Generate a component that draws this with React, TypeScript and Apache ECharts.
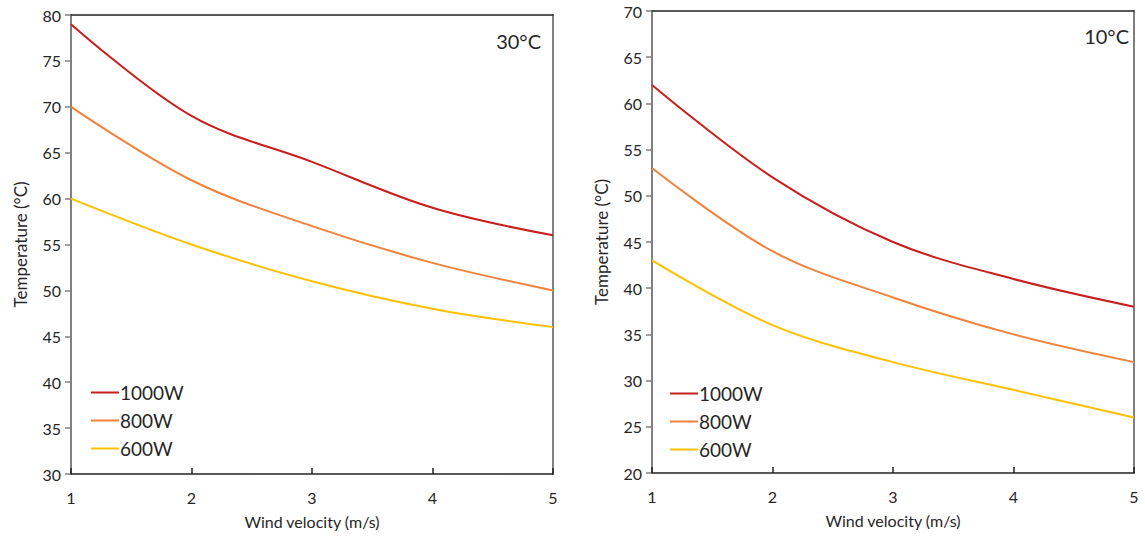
import React, { useEffect, useRef } from "react";
import * as echarts from "echarts";

const windVelocity = [1, 2, 3, 4, 5];
const seriesNames = ["1000W", "800W", "600W"];
const seriesColors = ["#C81E1E", "#F0823C", "#FFC000"];

const temp30C_1000W = [79, 69, 64, 59, 56];
const temp30C_800W = [70, 62, 57, 53, 50];
const temp30C_600W = [60, 55, 51, 48, 46];

const temp10C_1000W = [62, 52, 45, 41, 38];
const temp10C_800W = [53, 44, 39, 35, 32];
const temp10C_600W = [43, 36, 32, 29, 26];

const panelLabels = ["30°C", "10°C"];
const xName = "Wind velocity (m/s)";
const yName = "Temperature (°C)";

const FONT = "Lato, 'Open Sans', sans-serif";
const TXT = "#262626";

export default function App() {
  const ref = useRef<HTMLDivElement>(null);
  useEffect(() => {
    if (!ref.current) return;
    const chart = echarts.init(ref.current, undefined, { renderer: "svg" });
    const grids = [
      { left: 71, top: 15, width: 482, height: 459 },
      { left: 652, top: 11, width: 482, height: 462 },
    ];
    const yRanges = [
      [30, 80],
      [20, 70],
    ];
    const xAxes: any[] = [];
    const yAxes: any[] = [];
    grids.forEach((g, i) => {
      xAxes.push({
        type: "value",
        gridIndex: i,
        min: 1,
        max: 5,
        interval: 1,
        position: "bottom",
        name: xName,
        nameLocation: "middle",
        nameGap: 39,
        nameTextStyle: { fontFamily: FONT, fontSize: 16, color: TXT },
        axisLine: { show: true, lineStyle: { color: "#222", width: 1.5 } },
        axisTick: { show: true, inside: true, length: 6, lineStyle: { color: "#222", width: 1.5 } },
        axisLabel: { fontFamily: FONT, fontSize: 16, color: TXT, margin: 15 },
        splitLine: { show: false },
      });
      xAxes.push({
        type: "value",
        gridIndex: i,
        min: 1,
        max: 5,
        position: "top",
        axisLine: { show: true, onZero: false, lineStyle: { color: "#222", width: 1.5 } },
        axisTick: { show: false },
        axisLabel: { show: false },
        splitLine: { show: false },
      });
      yAxes.push({
        type: "value",
        gridIndex: i,
        min: yRanges[i][0],
        max: yRanges[i][1],
        interval: 5,
        position: "left",
        name: yName,
        nameLocation: "middle",
        nameGap: 42,
        nameTextStyle: { fontFamily: FONT, fontSize: 17, color: TXT },
        axisLine: { show: true, lineStyle: { color: "#808080", width: 2 } },
        axisTick: { show: true, inside: false, length: 6, lineStyle: { color: "#808080", width: 1.5 } },
        axisLabel: { fontFamily: FONT, fontSize: 16, color: TXT, margin: 10 },
        splitLine: { show: false },
      });
      yAxes.push({
        type: "value",
        gridIndex: i,
        min: yRanges[i][0],
        max: yRanges[i][1],
        position: "right",
        axisLine: { show: true, onZero: false, lineStyle: { color: "#808080", width: 2 } },
        axisTick: { show: false },
        axisLabel: { show: false },
        splitLine: { show: false },
      });
    });

    const dataSets = [
      [temp30C_1000W, temp30C_800W, temp30C_600W],
      [temp10C_1000W, temp10C_800W, temp10C_600W],
    ];
    const series: any[] = [];
    dataSets.forEach((set, gi) => {
      set.forEach((vals, si) => {
        series.push({
          type: "line",
          name: seriesNames[si],
          xAxisIndex: gi * 2,
          yAxisIndex: gi * 2,
          data: windVelocity.map((x, k) => [x, vals[k]]),
          smooth: 0.35,
          symbol: "none",
          lineStyle: { color: seriesColors[si], width: 2 },
          itemStyle: { color: seriesColors[si] },
        });
      });
    });

    const legendBase = {
      orient: "vertical",
      data: seriesNames.map((n) => ({ name: n, icon: "rect" })),
      itemWidth: 28,
      itemHeight: 2,
      itemGap: 7,
      selectedMode: false,
      textStyle: { fontFamily: FONT, fontSize: 19, lineHeight: 21, color: TXT, padding: [0, 0, 0, -4] },
    };

    chart.setOption({
      animation: false,
      grid: grids.map((g) => ({ ...g, containLabel: false })),
      xAxis: xAxes,
      yAxis: yAxes,
      series,
      legend: [
        { ...legendBase, left: 86, top: 377 },
        { ...legendBase, left: 665, top: 378 },
      ],
      graphic: [
        {
          type: "text",
          right: 1145 - 541,
          top: 31,
          style: { text: panelLabels[0], fontFamily: FONT, fontSize: 20, fill: TXT },
        },
        {
          type: "text",
          right: 1145 - 1129,
          top: 26,
          style: { text: panelLabels[1], fontFamily: FONT, fontSize: 20, fill: TXT },
        },
      ],
    });
    return () => chart.dispose();
  }, []);
  return (
    <div
      ref={ref}
      style={{ position: "fixed", left: 0, top: 0, width: 1145, height: 538, background: "#fff" }}
    />
  );
}
